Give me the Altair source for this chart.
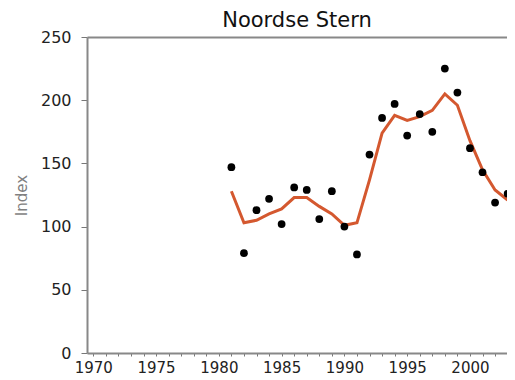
import altair as alt
import pandas as pd

years = list(range(1981, 2004))
index_values = [147, 79, 113, 122, 102, 131, 129, 106, 128, 100, 78, 157, 186, 197, 172, 189, 175, 225, 206, 162, 143, 119, 126]
trend_values = [128, 103, 105, 110, 114, 123, 123, 116, 110, 101, 103, 137, 174, 188, 184, 187, 192, 205, 196, 168, 145, 129, 121]

df = pd.DataFrame({"year": years, "index": index_values, "trend": trend_values})

W, H = 420, 316
x_scale = alt.Scale(domain=[1969.5, 2002.95], nice=False, zero=False)
y_scale = alt.Scale(domain=[0, 250], nice=False)

font = "DejaVu Sans"

x_axis = alt.Axis(
    values=list(range(1970, 2003)),
    labelExpr="datum.value % 5 == 0 ? datum.value : ''",
    title=None, grid=False, tickSize=3, tickColor="#777", domainColor="#888",
    domainWidth=2, labelFont=font, labelFontSize=15, labelColor="#222",
    labelPadding=4, labelFlush=False, labelOverlap=False,
)
y_axis = alt.Axis(
    values=[0, 50, 100, 150, 200, 250], title="Index", grid=False,
    tickSize=6, tickColor="#777", domainColor="#888", domainWidth=2,
    labelFont=font, labelFontSize=16, labelColor="#222", labelPadding=10,
    titleFont=font, titleFontSize=15, titleColor="#808080", titleFontWeight="normal",
    titlePadding=11,
)

points = alt.Chart(df).mark_point(filled=True, color="black", size=60, opacity=1, clip=True).encode(
    x=alt.X("year:Q", scale=x_scale, axis=x_axis),
    y=alt.Y("index:Q", scale=y_scale, axis=y_axis),
)

line = alt.Chart(df).mark_line(color="#d4582f", strokeWidth=3, clip=True).encode(
    x=alt.X("year:Q", scale=x_scale,
            axis=alt.Axis(orient="top", labels=False, ticks=False, title=None, grid=False,
                          domainColor="#888", domainWidth=2)),
    y=alt.Y("trend:Q", scale=y_scale),
)

chart = alt.layer(line, points).resolve_axis(x="independent").properties(
    width=W, height=H,
    title=alt.Title("Noordse Stern", font=font, fontSize=21, fontWeight="normal",
                    color="#111", anchor="middle", offset=9, dy=11),
    autosize=alt.AutoSizeParams(type="none"),
    padding={"left": 79, "top": 29, "right": 0, "bottom": 26},
).configure_view(stroke=None)

chart.save("out.html", embed_options={"renderer": "svg", "actions": False})
